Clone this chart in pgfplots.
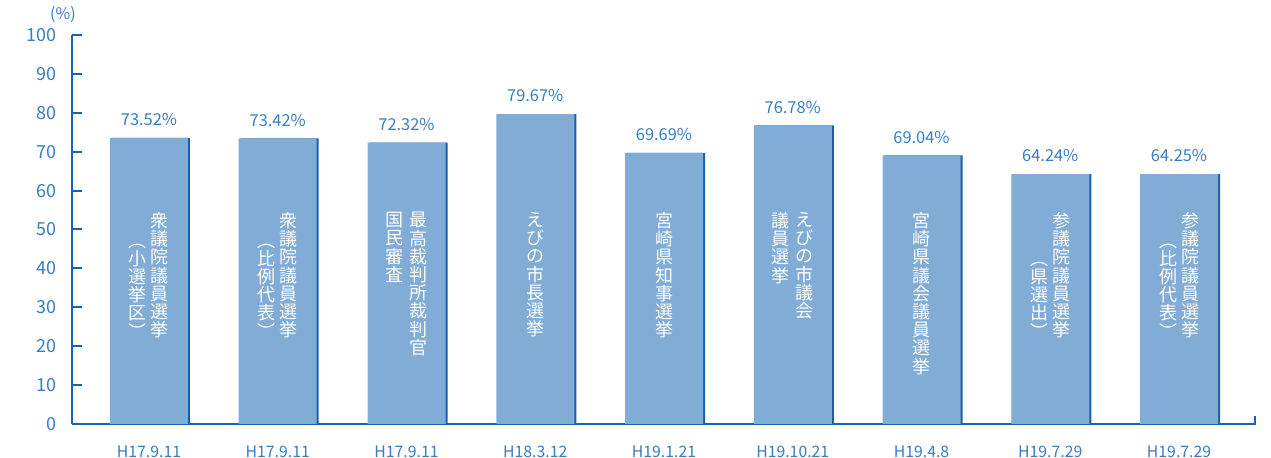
\documentclass[border=0pt]{standalone}
\usepackage{fontspec}
\setmainfont{Noto Sans CJK JP}
\usepackage{pgfplots}
\pgfplotsset{compat=1.18}
\definecolor{axisblue}{RGB}{25,100,178}
\definecolor{textblue}{RGB}{55,125,195}
\definecolor{barfill}{RGB}{128,172,213}
\definecolor{barshade}{RGB}{25,95,172}
\newcommand{\vfont}{\fontsize{9}{9.1}\selectfont}
\begin{document}
\begin{tikzpicture}
\useasboundingbox (-36pt,-17pt) rectangle (599.5pt,212pt);
\begin{axis}[
  at={(0,0)}, anchor=south west,
  scale only axis, width=591.5pt, height=194.5pt,
  xmin=-0.598, xmax=8.59, ymin=0, ymax=100,
  axis x line*=bottom, axis y line*=left,
  axis line style={axisblue, line width=1pt, -},
  every outer x axis line/.append style={-},
  every outer y axis line/.append style={-},
  ytick={0,10,...,100}, xtick={0,...,8},
  xticklabels={H17.9.11,H17.9.11,H17.9.11,H18.3.12,H19.1.21,H19.10.21,H19.4.8,H19.7.29,H19.7.29},
  tick align=inside, major tick length=5pt,
  ytick style={axisblue, line width=1pt},
  xtick style={draw=none},
  /pgf/number format/assume math mode=true,
  ticklabel style={text=textblue},
  yticklabel style={font=\fontsize{9}{10}\selectfont, xshift=-4pt},
  xticklabel style={font=\fontsize{7.9}{9}\selectfont, yshift=-2.5pt},
  ybar, bar width=39pt,
  clip=false,
]
\addplot[draw=none, fill=barshade, bar shift=1pt] coordinates {
  (0,73.52) (1,73.42) (2,72.32) (3,79.67) (4,69.69) (5,76.78) (6,69.04) (7,64.24) (8,64.25)};
\addplot[draw=none, fill=barfill, bar shift=0pt,
  point meta=explicit symbolic,
  nodes near coords,
  nodes near coords style={font=\fontsize{8.2}{9}\selectfont, text=textblue, anchor=south, yshift=2.5pt}]
  coordinates {
  (0,73.52) [73.52\%] (1,73.42) [73.42\%] (2,72.32) [72.32\%]
  (3,79.67) [79.67\%] (4,69.69) [69.69\%] (5,76.78) [76.78\%]
  (6,69.04) [69.04\%] (7,64.24) [64.24\%] (8,64.25) [64.25\%]};
\draw[axisblue, line width=1pt] ([yshift=-0.5pt]rel axis cs:1,0) -- ([yshift=4pt]rel axis cs:1,0);
\node[text=textblue, font=\fontsize{8}{9}\selectfont] at ([xshift=-4.5pt, yshift=10pt]rel axis cs:0,1) {(\%)};
\tikzset{vt/.style={anchor=north, text=white, align=center, font=\vfont, inner sep=0pt}}
% bar 1
\node[vt, xshift=5.5pt] (a) at (axis cs:0,54.5) {衆\\議\\院\\議\\員\\選\\挙};
\node[vt, anchor=south, xshift=-11pt] at (a.south) {︵\\小\\選\\挙\\区\\︶};
% bar 2
\node[vt, xshift=5.5pt] (b) at (axis cs:1,54.5) {衆\\議\\院\\議\\員\\選\\挙};
\node[vt, anchor=south, xshift=-11pt] at (b.south) {︵\\比\\例\\代\\表\\︶};
% bar 3
\node[vt, xshift=6pt] at (axis cs:2,54.5) {最\\高\\裁\\判\\所\\裁\\判\\官};
\node[vt, xshift=-6pt] at (axis cs:2,54.5) {国\\民\\審\\査};
% bar 4
\node[vt] at (axis cs:3,54.5) {え\\び\\の\\市\\長\\選\\挙};
% bar 5
\node[vt] at (axis cs:4,54.5) {宮\\崎\\県\\知\\事\\選\\挙};
% bar 6
\node[vt, xshift=6pt] at (axis cs:5,54.5) {え\\び\\の\\市\\議\\会};
\node[vt, xshift=-6pt] at (axis cs:5,54.5) {議\\員\\選\\挙};
% bar 7
\node[vt] at (axis cs:6,54.5) {宮\\崎\\県\\議\\会\\議\\員\\選\\挙};
% bar 8
\node[vt, xshift=5.5pt] (c) at (axis cs:7,54.5) {参\\議\\院\\議\\員\\選\\挙};
\node[vt, anchor=south, xshift=-11pt] at (c.south) {︵\\県\\選\\出\\︶};
% bar 9
\node[vt, xshift=5.5pt] (d) at (axis cs:8,54.5) {参\\議\\院\\議\\員\\選\\挙};
\node[vt, anchor=south, xshift=-11pt] at (d.south) {︵\\比\\例\\代\\表\\︶};
\end{axis}
\end{tikzpicture}
\end{document}
